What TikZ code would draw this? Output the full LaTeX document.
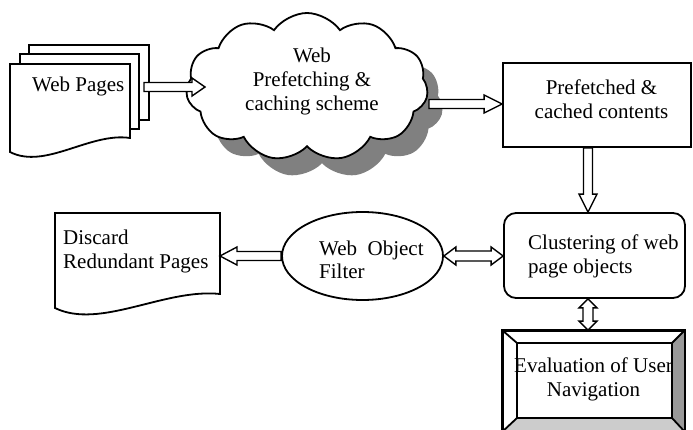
\documentclass[tikz,border=0pt]{standalone}
\usepackage{fontspec}
\setmainfont{Liberation Serif}
\usetikzlibrary{shapes.symbols,shapes.geometric,shadows,calc,positioning}
\definecolor{bevelR}{gray}{0.6}
\definecolor{bevelB}{gray}{0.8}
\tikzset{
  lbl/.style={font=\fontsize{21}{24}\selectfont,inner sep=0pt},
  box/.style={draw,line width=1.8pt,fill=white,inner sep=0pt},
  blk/.style={draw,line width=1.4pt,fill=white,line join=miter},
  sombra/.style={drop shadow={shadow xshift=15pt,shadow yshift=-17pt,fill=gray,opacity=1}}
}
% flecha de bloque simple y doble
\newcommand{\sarrow}[3][13]{%
  \path ($(#3)!#1pt!(#2)$) coordinate (hd);
  \draw[blk] ($(#2)!4.5pt!90:(#3)$) -- ($(hd)!4.5pt!90:(#3)$) -- ($(hd)!9pt!90:(#3)$) -- (#3)
    -- ($(hd)!9pt!-90:(#3)$) -- ($(hd)!4.5pt!-90:(#3)$) -- ($(#2)!4.5pt!-90:(#3)$) -- cycle;}
\newcommand{\darrow}[3][11]{%
  \path ($(#2)!#1pt!(#3)$) coordinate (ha) ($(#3)!#1pt!(#2)$) coordinate (hb);
  \draw[blk] (#2) -- ($(ha)!9pt!90:(#3)$) -- ($(ha)!5pt!90:(#3)$) -- ($(hb)!5pt!90:(#3)$)
    -- ($(hb)!9pt!90:(#3)$) -- (#3) -- ($(hb)!9pt!-90:(#3)$) -- ($(hb)!5pt!-90:(#3)$)
    -- ($(ha)!5pt!-90:(#3)$) -- ($(ha)!9pt!-90:(#3)$) -- cycle;}

\begin{document}
\begin{tikzpicture}[x=1pt,y=-1pt]
\clip (0,0) rectangle (693,430);
% paginas web
\draw[box] (29,45) rectangle (149,120);
\draw[box] (20,54) rectangle (139,129);
\draw[box] (10,64) -- (130,64) -- (130,138) .. controls (90,132) and (45,170) .. (10,152) -- cycle;
\node[lbl,anchor=base west] (tpag) at (32,92) {Web Pages};
% nube
\node[cloud,cloud puffs=11,cloud puff arc=110,cloud ignores aspect,box,sombra,minimum width=242pt,minimum height=148pt] (cld) at (307,87) {};
\node[lbl,align=center,anchor=base] (tcld) at (312,111) {Web\\Prefetching \&\\caching scheme};
% cajas
\node[box,minimum width=188pt,minimum height=84pt] (pref) at (597,105) {};
\node[lbl,align=center,anchor=base] (tpref) at (601.5,119) {Prefetched \&\\cached contents};
\draw[box] (55,213) -- (220,213) -- (220,294) .. controls (165,288) and (100,330) .. (55,308) -- cycle;
\node[lbl,align=left,anchor=base west] (tdisc) at (63,269) {Discard\\Redundant Pages};
\node[ellipse,box,minimum width=161pt,minimum height=88pt] (filt) at (362.5,256) {};
\node[lbl,align=left,anchor=base west] (tfilt) at (319,279) {Web\ \ Object\\Filter};
\node[box,rounded corners=12pt,minimum width=181pt,minimum height=85pt] (clus) at (594.5,255.5) {};
\node[lbl,align=left,anchor=base west] (tclus) at (528,273) {Clustering of web\\page objects};
% caja biselada
\node[box,minimum width=181pt,minimum height=100pt] (eval) at (593.5,381) {};
\fill[bevelR] (eval.north east) -- (672,343) -- (672,418) -- (eval.south east) -- cycle;
\fill[bevelB] (eval.south west) -- (517,418) -- (672,418) -- (eval.south east) -- cycle;
\draw[line width=1.8pt] (517,343) rectangle (672,418);
\draw[line width=1.8pt] (eval.north west) -- (517,343) (eval.north east) -- (672,343)
  (eval.south west) -- (517,418) (eval.south east) -- (672,418);
\draw[line width=1.8pt] (eval.north west) rectangle (eval.south east);
\node[lbl,align=center,anchor=base] (teval) at (593.5,396) {Evaluation of User\\Navigation};
% flechas
\coordinate (p1) at (144,87);
\coordinate (c1) at (205,87);
\coordinate (c2) at (429,104);
\coordinate (r2) at (c2 -| pref.west);
\coordinate (a3) at ([xshift=-9pt]pref.south);
\coordinate (b3) at (a3 |- clus.north);
\coordinate (b4) at (filt.east -| clus.west);
\coordinate (dsc) at (220,256);
\coordinate (a6) at (a3 |- clus.south);
\coordinate (b6) at (a3 |- eval.north);
\sarrow[13]{p1}{c1}
\sarrow[18]{c2}{r2}
\sarrow[18]{a3}{b3}
\darrow[12]{filt.east}{b4}
\sarrow[17]{filt.west}{dsc}
\darrow[9]{a6}{b6}
\end{tikzpicture}
\end{document}
